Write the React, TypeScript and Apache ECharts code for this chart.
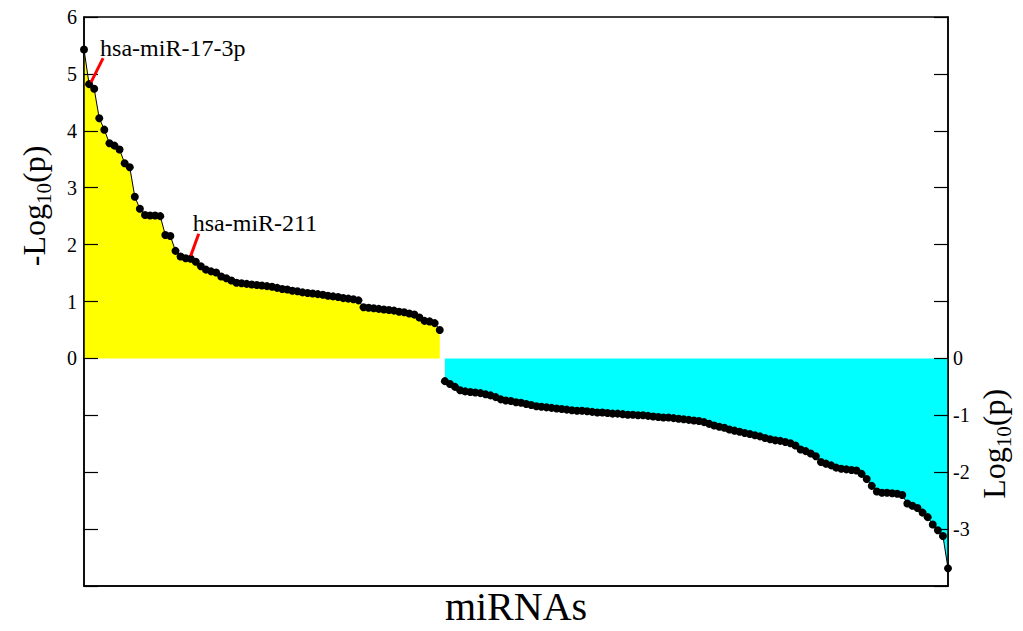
import React, { useEffect, useRef } from 'react';
import * as echarts from 'echarts';

// -Log10(p) for up-regulated miRNAs (left half, sorted)
const POS_VALUES = [
  5.43, 4.82, 4.74, 4.22, 4.02, 3.78, 3.74, 3.67, 3.43, 3.36,
  2.84, 2.63, 2.52, 2.51, 2.51, 2.50, 2.17, 2.15, 1.89, 1.79,
  1.76, 1.75, 1.70, 1.62, 1.56, 1.53, 1.51, 1.44, 1.41, 1.37,
  1.33, 1.32, 1.31, 1.30, 1.29, 1.28, 1.27, 1.26, 1.24, 1.22,
  1.21, 1.19, 1.18, 1.16, 1.15, 1.14, 1.13, 1.12, 1.10, 1.09,
  1.08, 1.06, 1.05, 1.04, 1.02, 0.90, 0.89, 0.88, 0.87, 0.86,
  0.85, 0.84, 0.82, 0.81, 0.79, 0.77, 0.72, 0.66, 0.65, 0.62,
  0.50,
];

// Log10(p) for down-regulated miRNAs (right half, sorted)
const NEG_VALUES = [
  -0.40, -0.45, -0.50, -0.56, -0.58, -0.59, -0.60, -0.61, -0.63, -0.65,
  -0.68, -0.72, -0.74, -0.75, -0.77, -0.78, -0.80, -0.82, -0.84, -0.85,
  -0.86, -0.87, -0.88, -0.89, -0.90, -0.91, -0.92, -0.92, -0.93, -0.94,
  -0.95, -0.95, -0.96, -0.97, -0.97, -0.98, -0.99, -0.99, -1.00, -1.00,
  -1.01, -1.02, -1.03, -1.04, -1.04, -1.05, -1.06, -1.07, -1.08, -1.09,
  -1.10, -1.12, -1.15, -1.18, -1.20, -1.22, -1.25, -1.27, -1.29, -1.31,
  -1.33, -1.35, -1.37, -1.40, -1.42, -1.44, -1.45, -1.47, -1.49, -1.53,
  -1.60, -1.63, -1.67, -1.72, -1.82, -1.85, -1.88, -1.92, -1.94, -1.95,
  -1.96, -1.97, -2.03, -2.12, -2.24, -2.34, -2.36, -2.36, -2.37, -2.38,
  -2.40, -2.55, -2.59, -2.63, -2.71, -2.79, -2.92, -3.02, -3.12, -3.69,
];

const LEFT_TICK_LABELS = ['0', '1', '2', '3', '4', '5', '6'];
const RIGHT_TICK_LABELS = ['0', '-1', '-2', '-3'];

const ANNOTATIONS = [
  { label: 'hsa-miR-17-3p', index: 1 },
  { label: 'hsa-miR-211', index: 21 },
];

const X_TITLE = 'miRNAs';

const FONT = '"Liberation Serif", "Times New Roman", Times, serif';

export default function App() {
  const ref = useRef<HTMLDivElement>(null);

  useEffect(() => {
    document.body.style.margin = '0';
    const chart = echarts.init(ref.current!, null, { renderer: 'svg' });
    const posData = POS_VALUES.map((v, i) => [i, v]);
    const negData = NEG_VALUES.map((v, i) => [POS_VALUES.length + i, v]);
    const maxX = POS_VALUES.length + NEG_VALUES.length - 1;

    const seriesBase = {
      type: 'line',
      symbol: 'circle',
      symbolSize: 8,
      showAllSymbol: true,
      clip: false,
      itemStyle: { color: '#000' },
      lineStyle: { color: '#000', width: 1 },
      emphasis: { disabled: true },
      z: 2,
    };

    chart.setOption({
      animation: false,
      backgroundColor: '#fff',
      grid: {
        left: 84, right: 75, top: 17, bottom: 45,
        containLabel: false, outerBoundsMode: 'none',
        show: true, borderColor: '#000', borderWidth: 1.5, backgroundColor: 'transparent',
      },
      xAxis: {
        type: 'value', min: 0, max: maxX,
        axisLine: { show: true, onZero: false, lineStyle: { color: '#000', width: 1.5 } },
        axisTick: { show: false }, axisLabel: { show: false }, splitLine: { show: false },
        name: X_TITLE, nameLocation: 'middle', nameGap: 0,
        nameTextStyle: { fontFamily: FONT, fontSize: 40, lineHeight: 40, color: '#000' },
      },
      yAxis: [
        {
          type: 'value', position: 'left', min: -4, max: 6, interval: 1, z: 3,
          axisLine: { show: true, onZero: false, lineStyle: { color: '#000', width: 1.5 } },
          axisTick: { show: true, inside: true, length: 14, lineStyle: { color: '#000', width: 1.2 } },
          axisLabel: {
            formatter: (v: number) => (LEFT_TICK_LABELS.includes(String(v)) ? String(v) : ''),
            fontFamily: FONT, fontSize: 20, color: '#000', margin: 7,
          },
          splitLine: { show: false },
        },
        {
          type: 'value', position: 'right', min: -4, max: 6, interval: 1, z: 3,
          axisLine: { show: true, onZero: false, lineStyle: { color: '#000', width: 1.5 } },
          axisTick: { show: true, inside: true, length: 14, lineStyle: { color: '#000', width: 1.2 } },
          axisLabel: {
            formatter: (v: number) => (RIGHT_TICK_LABELS.includes(String(v)) ? String(v) : ''),
            fontFamily: FONT, fontSize: 20, color: '#000', margin: 5,
          },
          splitLine: { show: false },
        },
      ],
      series: [
        { ...seriesBase, name: 'up', data: posData, areaStyle: { color: '#ffff00', opacity: 1, origin: 'auto' } },
        { ...seriesBase, name: 'down', data: negData, areaStyle: { color: '#00ffff', opacity: 1, origin: 'auto' } },
      ],
    });

    const toPx = (x: number, y: number) =>
      chart.convertToPixel({ xAxisIndex: 0, yAxisIndex: 0 }, [x, y]) as number[];

    const annotationLayout = [
      { line: [2, -2, 14, -26], text: [11, -36] },
      { line: [0, -3, 8, -25], text: [2, -36] },
    ];

    const graphics: any[] = [];
    ANNOTATIONS.forEach((a, k) => {
      const [px, py] = toPx(a.index, POS_VALUES[a.index]);
      const L = annotationLayout[k];
      graphics.push({
        type: 'line', z: 10,
        shape: { x1: px + L.line[0], y1: py + L.line[1], x2: px + L.line[2], y2: py + L.line[3] },
        style: { stroke: '#ff0000', lineWidth: 3 },
      });
      graphics.push({
        type: 'text', z: 10, x: px + L.text[0], y: py + L.text[1],
        style: { text: a.label, fontFamily: FONT, fontSize: 24, fill: '#000', align: 'left', verticalAlign: 'middle' },
      });
    });

    const richStyle = {
      a: { fontFamily: FONT, fontSize: 32, fill: '#000', color: '#000', lineHeight: 40, verticalAlign: 'middle' },
      b: { fontFamily: FONT, fontSize: 21, fill: '#000', color: '#000', lineHeight: 40, verticalAlign: 'bottom' },
    };
    const leftAnchor = toPx(0, 2.68);
    const rightAnchor = toPx(maxX, -1.5);
    graphics.push({
      type: 'text', z: 10, x: leftAnchor[0] - 50, y: leftAnchor[1], rotation: Math.PI / 2,
      style: { text: '{a|-Log}{b|10}{a|(p)}', rich: richStyle, align: 'center', verticalAlign: 'middle', fill: '#000' },
    });
    graphics.push({
      type: 'text', z: 10, x: rightAnchor[0] + 46, y: rightAnchor[1], rotation: Math.PI / 2,
      style: { text: '{a|Log}{b|10}{a|(p)}', rich: richStyle, align: 'center', verticalAlign: 'middle', fill: '#000' },
    });

    chart.setOption({ graphic: graphics });

    return () => chart.dispose();
  }, []);

  return <div ref={ref} style={{ width: 1023, height: 631 }} />;
}
